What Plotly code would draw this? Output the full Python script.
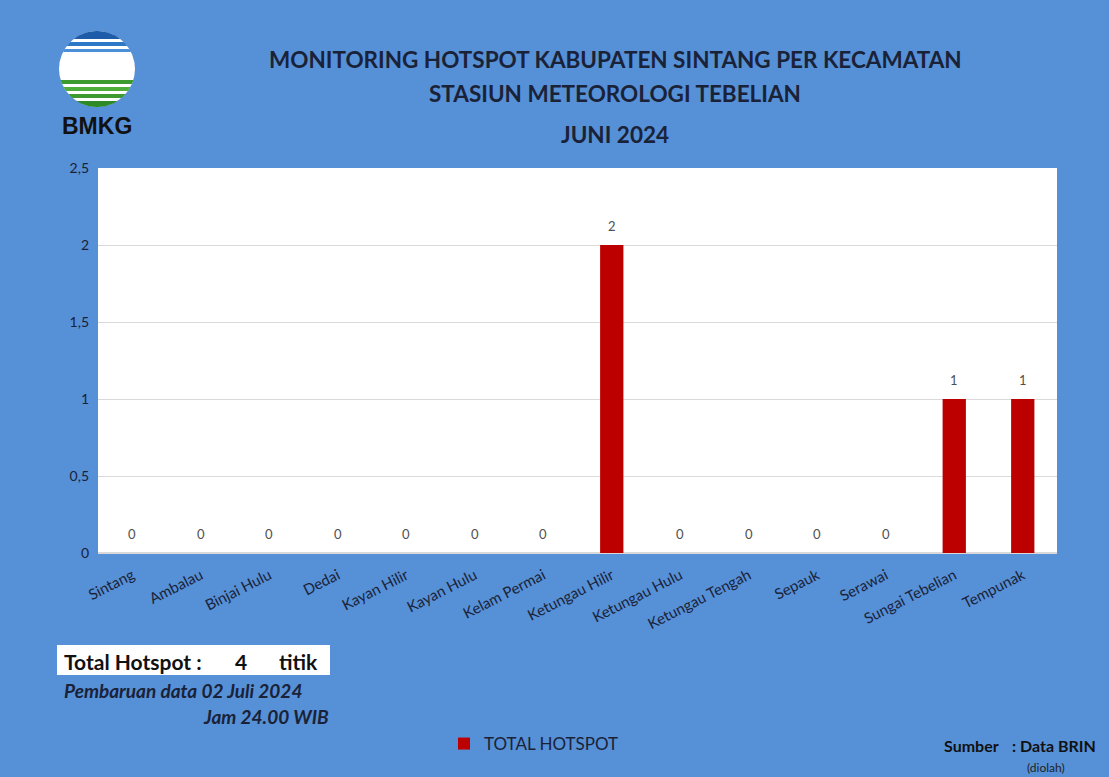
import numpy as np
import plotly.graph_objects as go

categories = ["Sintang", "Ambalau", "Binjai Hulu", "Dedai", "Kayan Hilir", "Kayan Hulu",
              "Kelam Permai", "Ketungau Hilir", "Ketungau Hulu", "Ketungau Tengah",
              "Sepauk", "Serawai", "Sungai Tebelian", "Tempunak"]
hotspots = [0, 0, 0, 0, 0, 0, 0, 2, 0, 0, 0, 0, 1, 1]
y_ticks = [0, 0.5, 1, 1.5, 2, 2.5]

W, H = 1109, 777
L, R, T, B = 98, 1057, 168, 553
BG = "#5690D6"
NAVY = "#1A2238"
FONT = "Lato"


def px(x):
    return (x - L) / (R - L)


def py(y):
    return (B - y) / (B - T)


fig = go.Figure()
fig.add_trace(go.Bar(
    x=categories, y=hotspots, name="TOTAL HOTSPOT",
    marker=dict(color="#BC0000", line=dict(width=0)),
))

shapes = []
annotations = []

# data labels above bars
for c, v in zip(categories, hotspots):
    annotations.append(dict(x=c, y=v, xref="x", yref="y", text=str(v), showarrow=False,
                            yshift=19, font=dict(family=FONT, size=13, color="#505050")))

# logo
cx, cy, r = 97, 69, 38
shapes.append(dict(type="circle", xref="paper", yref="paper",
                   x0=px(cx - r), x1=px(cx + r), y0=py(cy + r), y1=py(cy - r),
                   fillcolor="white", line=dict(width=0), layer="above"))


def band(y1, y2, color):
    ys = np.linspace(y1, y2, 12)
    ys = np.clip(ys, cy - r + 0.01, cy + r - 0.01)
    xs_r = cx + np.sqrt(np.maximum(r ** 2 - (ys - cy) ** 2, 0))
    xs_l = cx - np.sqrt(np.maximum(r ** 2 - (ys - cy) ** 2, 0))
    pts = [(xs_r[i], ys[i]) for i in range(len(ys))] + [(xs_l[i], ys[i]) for i in range(len(ys) - 1, -1, -1)]
    path = "M " + " L ".join(f"{px(a):.5f},{py(b):.5f}" for a, b in pts) + " Z"
    shapes.append(dict(type="path", xref="paper", yref="paper", path=path,
                       fillcolor=color, line=dict(width=0), layer="above"))


band(31, 39, "#1E5BA8")
band(42, 46, "#2E78C8")
band(49, 52, "#4A90D9")
band(80, 84, "#3C9A2E")
band(87, 91, "#4FAE3A")
band(94, 98, "#3C9A2E")
band(101, 107, "#2E8A26")


def ann(text, x, y, size, color=NAVY, xanchor="center", family=FONT):
    annotations.append(dict(text=text, x=px(x), y=py(y), xref="paper", yref="paper",
                            xanchor=xanchor, yanchor="middle", showarrow=False,
                            font=dict(family=family, size=size, color=color)))


ann("<b>BMKG</b>", 97, 126, 23, "#111111", family="Liberation Sans")

# titles
ann("<b>MONITORING HOTSPOT KABUPATEN SINTANG PER KECAMATAN</b>", 615, 60, 22.5)
ann("<b>STASIUN METEOROLOGI TEBELIAN</b>", 615, 93, 22.5)
ann("<b>JUNI 2024</b>", 615, 134, 22.5)

# total hotspot box
shapes.append(dict(type="rect", xref="paper", yref="paper", x0=px(57), x1=px(330),
                   y0=py(675), y1=py(645), fillcolor="white", line=dict(width=0)))
ann("<b>Total Hotspot :</b>", 62, 661, 21, "#111111", "left")
ann("<b>4</b>", 241, 661, 21, "#111111")
ann("<b>titik</b>", 277, 661, 21, "#111111", "left")
ann("<b><i>Pembaruan data 02 Juli 2024</i></b>", 62, 690, 19, NAVY, "left")
ann("<b><i>Jam 24.00 WIB</i></b>", 331, 716, 19, NAVY, "right")
ann("<b>Sumber</b>", 942, 746, 16, "#111111", "left")
ann("<b>: Data BRIN</b>", 1098, 746, 16, "#111111", "right")
ann("(diolah)", 1067, 767, 12, "#222222", "right")

fig.update_layout(
    width=W, height=H,
    margin=dict(l=L, r=W - R, t=T, b=H - B, autoexpand=False),
    paper_bgcolor=BG, plot_bgcolor="white",
    separators=", ",
    bargap=0.66,
    showlegend=True,
    legend=dict(orientation="h", x=px(444), y=py(744), xanchor="left", yanchor="middle",
                bgcolor="rgba(0,0,0,0)", font=dict(family=FONT, size=17, color=NAVY),
                itemwidth=30),
    shapes=shapes, annotations=annotations,
    font=dict(family=FONT, color=NAVY),
)
fig.update_xaxes(tickangle=-27, tickfont=dict(family=FONT, size=15, color=NAVY),
                 showgrid=False, ticks="", showline=False, ticklabelstandoff=10)
fig.update_yaxes(range=[0, 2.5], tickvals=y_ticks, gridcolor="#D9D9D9", gridwidth=1,
                 zeroline=True, zerolinecolor="#D9D9D9",
                 tickfont=dict(family=FONT, size=14, color=NAVY), ticks="", ticklen=0,
                 tickformat=",.1~f", ticklabelstandoff=8)

fig.write_html("out.html", config={"displayModeBar": False},
               post_script="document.body.style.margin='0';")
